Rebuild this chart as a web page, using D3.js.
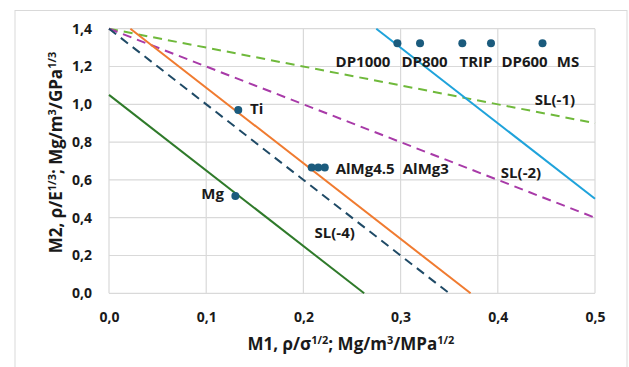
<!DOCTYPE html>
<html><head><meta charset="utf-8">
<script src="https://cdn.jsdelivr.net/npm/d3@7"></script>
<style>body{margin:0;background:#fff}svg{display:block}text{font-family:"Open Sans","Noto Sans",sans-serif;font-weight:700;fill:#1a1a1a}</style>
</head><body>
<script>
// ---- data ----
const xTicks = [0, 0.1, 0.2, 0.3, 0.4, 0.5];
const yTicks = [0, 0.2, 0.4, 0.6, 0.8, 1.0, 1.2, 1.4];
const pointX = [0.133, 0.130, 0.2085, 0.2153, 0.222, 0.2967, 0.320, 0.3635, 0.393, 0.446];
const pointY = [0.970, 0.515, 0.666, 0.666, 0.666, 1.323, 1.323, 1.323, 1.323, 1.323];
const labelText = ["Ti", "Mg", "AlMg4.5", "AlMg3", "DP1000", "DP800", "TRIP", "DP600", "MS", "SL(-1)", "SL(-2)", "SL(-4)"];
const labelX = [0.1451, 0.1183, 0.2332, 0.3022, 0.2613, 0.3246, 0.3776, 0.4275, 0.4722, 0.4588, 0.4239, 0.2322];
const labelY = [0.951, 0.499, 0.631, 0.631, 1.200, 1.200, 1.200, 1.200, 1.200, 0.996, 0.610, 0.2926];
const labelAnchor = ["start", "end", "start", "start", "middle", "middle", "middle", "middle", "middle", "middle", "middle", "middle"];
const lineSL1 = [[0, 1.4], [0.5, 0.9]];
const lineSL2 = [[0, 1.4], [0.5, 0.4]];
const lineSL4 = [[0, 1.4], [0.35, 0]];
const lineOrange = [[0.022, 1.4], [0.372, 0]];
const lineGreen = [[0, 1.05], [0.2625, 0]];
const lineBlue = [[0.275, 1.4], [0.5, 0.5]];

const W = 629, H = 367;
const svg = d3.select("body").append("svg").attr("width", W).attr("height", H);
svg.append("rect").attr("x", 15).attr("y", 10.5).attr("width", 612).attr("height", 370)
  .attr("fill", "#fff").attr("stroke", "#d9d9d9").attr("stroke-width", 1);

const x = d3.scaleLinear().domain([0, 0.5]).range([109, 595]);
const y = d3.scaleLinear().domain([0, 1.4]).range([293.3, 28.7]);
const fmt = v => d3.format(".1f")(v).replace(".", ",");

// grid
const g = svg.append("g");
g.selectAll(".vg").data(xTicks).join("line")
  .attr("x1", d => x(d)).attr("x2", d => x(d)).attr("y1", y(0)).attr("y2", y(1.4))
  .attr("stroke", "#d9d9d9").attr("stroke-width", 1.2);
g.selectAll(".hg").data(yTicks).join("line")
  .attr("y1", d => y(d)).attr("y2", d => y(d)).attr("x1", x(0)).attr("x2", x(0.5))
  .attr("stroke", "#d9d9d9").attr("stroke-width", 1.2);

// axes (labels only)
const xAxis = svg.append("g").attr("transform", `translate(0,${y(0)})`)
  .call(d3.axisBottom(x).tickValues(xTicks).tickFormat(fmt).tickSize(0).tickPadding(19));
const yAxis = svg.append("g").attr("transform", `translate(${x(0)},0)`)
  .call(d3.axisLeft(y).tickValues(yTicks).tickFormat(fmt).tickSize(0).tickPadding(17));
[xAxis, yAxis].forEach(a => { a.select(".domain").remove(); a.selectAll("text").attr("font-size", 14).style("font-weight", 700).attr("fill", "#1a1a1a"); });

// lines
const line = d3.line().x(d => x(d[0])).y(d => y(d[1]));
const lines = [
  [lineSL1, "#6fb93b", "9,6"],
  [lineSL2, "#a83aa8", "9,6"],
  [lineSL4, "#1f4a66", "9,6"],
  [lineOrange, "#f07b30", null],
  [lineGreen, "#2f7a2a", null],
  [lineBlue, "#1fa3db", null]
];
lines.forEach(([d, c, dash]) => {
  const p = svg.append("path").datum(d).attr("d", line).attr("fill", "none")
    .attr("stroke", c).attr("stroke-width", 2);
  if (dash) p.attr("stroke-dasharray", dash);
});

// points
svg.selectAll(".pt").data(pointX).join("circle")
  .attr("cx", d => x(d)).attr("cy", (d, i) => y(pointY[i])).attr("r", 4)
  .attr("fill", "#1b5b7d");

// labels
svg.selectAll(".lbl").data(labelText).join("text")
  .attr("x", (d, i) => x(labelX[i])).attr("y", (d, i) => y(labelY[i]))
  .attr("text-anchor", (d, i) => labelAnchor[i]).attr("font-size", 15).text(d => d);

// axis titles
const xt = svg.append("text").attr("x", 351).attr("y", 350).attr("text-anchor", "middle").attr("font-size", 17);
xt.append("tspan").text("M1, ρ/σ");
xt.append("tspan").attr("font-size", 11).attr("dy", -6).text("1/2");
xt.append("tspan").attr("dy", 6).text("; Mg/m");
xt.append("tspan").attr("font-size", 11).attr("dy", -6).text("3");
xt.append("tspan").attr("dy", 6).text("/MPa");
xt.append("tspan").attr("font-size", 11).attr("dy", -6).text("1/2");

const yt = svg.append("text").attr("transform", "translate(62,152.5) rotate(-90)").attr("text-anchor", "middle").attr("font-size", 17);
yt.append("tspan").text("M2, ρ/E");
yt.append("tspan").attr("font-size", 11).attr("dy", -6).text("1/3");
yt.append("tspan").attr("dy", 6).text("; Mg/m");
yt.append("tspan").attr("font-size", 11).attr("dy", -6).text("3");
yt.append("tspan").attr("dy", 6).text("/GPa");
yt.append("tspan").attr("font-size", 11).attr("dy", -6).text("1/3");
</script>
</body></html>
